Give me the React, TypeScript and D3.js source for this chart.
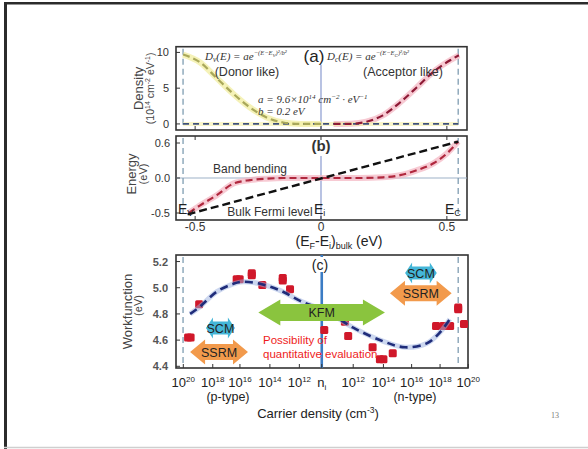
import React from 'react';
import * as d3 from 'd3';

// ---------- data ----------
const energyTicks = [-0.5, 0, 0.5];
const energyTickLabels = ['-0.5', '0', '0.5'];
const densityTicks = [0, 5, 10];
const bandTicks = [-0.5, 0, 0.5];
const bandTickLabels = ['-0.5', '0.0', '0.6'];
const wfTicks = [4.4, 4.6, 4.8, 5.0, 5.2];
const wfTickLabels = ['4.4', '4.6', '4.8', '5.0', '5.2'];
const carrierExps = ['20', '18', '16', '14', '12', 'i', '12', '14', '16', '18', '20'];
const carrierE = [-0.547, -0.43, -0.322, -0.203, -0.086, 0.003, 0.128, 0.248, 0.36, 0.473, 0.585];

const Ev = -0.548;
const Ec = 0.545;

const donorCurve: [number, number][] = [
  [-0.548, 9.7], [-0.48, 8.6], [-0.414, 6.4], [-0.348, 4.2], [-0.282, 2.3],
  [-0.216, 0.9], [-0.15, 0.2], [-0.08, 0.0], [0.0, 0.0],
];
const acceptorCurve: [number, number][] = [
  [0.05, 0.0], [0.12, 0.02], [0.18, 0.3], [0.246, 1.2], [0.314, 3.0],
  [0.38, 5.1], [0.447, 7.3], [0.513, 8.9], [0.548, 9.6],
];
const baseline: [number, number][] = [[Ev, 0], [Ec, 0]];

const bulkFermi: [number, number][] = [[-0.53, -0.52], [0.545, 0.52]];
const bandBending: [number, number][] = [
  [-0.525, -0.5], [-0.48, -0.39], [-0.414, -0.245], [-0.348, -0.08], [-0.282, -0.03],
  [-0.216, -0.01], [-0.15, 0], [0, 0], [0.15, 0], [0.246, 0.01], [0.314, 0.04],
  [0.38, 0.11], [0.447, 0.21], [0.5, 0.35], [0.545, 0.52],
];

const wfCurve: [number, number][] = [
  [-0.52, 4.8], [-0.481, 4.855], [-0.414, 4.97], [-0.348, 5.03], [-0.309, 5.046],
  [-0.242, 5.03], [-0.163, 4.98], [-0.083, 4.9], [0.003, 4.835], [0.049, 4.79],
  [0.128, 4.695], [0.248, 4.59], [0.334, 4.545], [0.42, 4.575], [0.473, 4.66], [0.512, 4.76],
];
const wfPoints: [number, number][] = [
  [-0.528, 4.62], [-0.518, 4.62], [-0.484, 4.873], [-0.335, 5.064], [-0.323, 5.064],
  [-0.275, 5.095], [-0.275, 5.11], [-0.233, 5.02], [-0.152, 5.055], [-0.152, 5.075],
  [-0.123, 4.988], [0.013, 4.677], [0.095, 4.74], [0.108, 4.631], [0.205, 4.545],
  [0.234, 4.453], [0.248, 4.453], [0.285, 4.499], [0.457, 4.708], [0.486, 4.708],
  [0.513, 4.708], [0.545, 4.835], [0.545, 4.85], [0.568, 4.723],
];

// arrows: [E start, E end, workfunction center, label]
const bigArrows: [number, number, number, string][] = [[-0.249, 0.254, 4.811, 'KFM']];
const scmArrows: [number, number, number, string][] = [[0.334, 0.46, 5.112, 'SCM'], [-0.457, -0.342, 4.692, 'SCM']];
const ssrmArrows: [number, number, number, string][] = [[0.274, 0.519, 4.957, 'SSRM'], [-0.52, -0.29, 4.509, 'SSRM']];

// ---------- layout ----------
const W = 588, H = 449;
const LEFT = 176, RIGHT = 467;
const A = { top: 46.7, bottom: 130 };
const B = { top: 136, bottom: 220 };
const C = { top: 255, bottom: 368, right: 468 };

const SANS = "'Liberation Sans', Arial, sans-serif";
const SERIF = "'Liberation Serif', 'Times New Roman', serif";

function arrowPath(x1: number, x2: number, cy: number, sh: number, hh: number, hl: number) {
  return `M${x1},${cy} L${x1 + hl},${cy - hh} L${x1 + hl},${cy - sh} L${x2 - hl},${cy - sh} L${x2 - hl},${cy - hh} L${x2},${cy} L${x2 - hl},${cy + hh} L${x2 - hl},${cy + sh} L${x1 + hl},${cy + sh} L${x1 + hl},${cy + hh} Z`;
}

export default function App() {
  const xE = d3.scaleLinear().domain([-0.576, 0.58]).range([LEFT, RIGHT]);
  const yA = d3.scaleLinear().domain([-0.85, 10.8]).range([A.bottom, A.top]);
  const yB = d3.scaleLinear().domain([-0.6, 0.6]).range([B.bottom, B.top]);
  const yC = d3.scaleLinear().domain([4.387, 5.25]).range([C.bottom, C.top]);

  const lineA = d3.line<[number, number]>().x(d => xE(d[0])).y(d => yA(d[1])).curve(d3.curveMonotoneX);
  const lineB = d3.line<[number, number]>().x(d => xE(d[0])).y(d => yB(d[1])).curve(d3.curveMonotoneX);
  const lineC = d3.line<[number, number]>().x(d => xE(d[0])).y(d => yC(d[1])).curve(d3.curveCatmullRom);

  const boxStroke = '#333';
  const vdash = '#7f9db2';

  return (
    <svg width={W} height={H} style={{ position: 'absolute', left: 0, top: 0, background: '#fff' }}>
      <rect x={0} y={0} width={W} height={H} fill="#fff" />
      {/* slide frame */}
      <rect x={4} y={2} width={W - 4} height={2.5} fill="#2b2b2b" />
      <rect x={4} y={2} width={3} height={H - 2} fill="#2b2b2b" />
      <line x1={4} x2={W} y1={447.5} y2={447.5} stroke="#cfcfcf" strokeWidth={1.5} />

      {/* ================= Panel (a) ================= */}
      <rect x={LEFT} y={A.top} width={RIGHT - LEFT} height={A.bottom - A.top} fill="#fff" stroke={boxStroke} strokeWidth={1.6} />
      {[Ev, Ec].map((e, i) => (
        <line key={'av' + i} x1={xE(e)} x2={xE(e)} y1={A.top + 2} y2={A.bottom - 2} stroke={vdash} strokeWidth={1.3} strokeDasharray="6,4" />
      ))}
      <line x1={xE(0)} x2={xE(0)} y1={A.top + 18} y2={A.bottom} stroke="#8a9ad0" strokeWidth={1.2} />
      <path d={lineA(donorCurve) || ''} fill="none" stroke="#f3efa6" strokeWidth={6} strokeOpacity={0.8} />
      <path d={lineA(acceptorCurve) || ''} fill="none" stroke="#f3b3c0" strokeWidth={6} strokeOpacity={0.7} />
      <path d={lineA(baseline) || ''} fill="none" stroke="#f3efa6" strokeWidth={4} strokeOpacity={0.6} />
      <path d={lineA(baseline) || ''} fill="none" stroke="#3d4f7c" strokeWidth={1.8} strokeDasharray="6,4" />
      <path d={lineA(donorCurve) || ''} fill="none" stroke="#a9a85a" strokeWidth={2.2} strokeDasharray="7,4" />
      <path d={lineA(acceptorCurve) || ''} fill="none" stroke="#8e1a36" strokeWidth={2.2} strokeDasharray="7,4" />
      {densityTicks.map(t => (
        <g key={'dt' + t}>
          <line x1={LEFT} x2={LEFT + 4} y1={yA(t)} y2={yA(t)} stroke={boxStroke} strokeWidth={1} />
          <text x={LEFT - 7} y={yA(t) + 4} textAnchor="end" fontFamily={SANS} fontSize={11} fill="#333">{t}</text>
        </g>
      ))}
      <text x={205} y={60} fontFamily={SERIF} fontStyle="italic" fontSize={11} fill="#333">
        D<tspan fontSize={7.5} dy={2}>v</tspan><tspan dy={-2}>(E) = ae</tspan>
        <tspan fontSize={6.5} dy={-5}>−(E−E</tspan><tspan fontSize={5} dy={1.5}>V</tspan><tspan fontSize={6.5} dy={-1.5}>)²/b²</tspan>
      </text>
      <text x={247} y={76} textAnchor="middle" fontFamily={SANS} fontSize={12.5} fill="#333">(Donor like)</text>
      <text x={314} y={62} textAnchor="middle" fontFamily={SANS} fontSize={17} fill="#222">(a)</text>
      <text x={327} y={60} fontFamily={SERIF} fontStyle="italic" fontSize={11} fill="#333">
        D<tspan fontSize={7.5} dy={2}>c</tspan><tspan dy={-2}>(E) = ae</tspan>
        <tspan fontSize={6.5} dy={-5}>−(E−E</tspan><tspan fontSize={5} dy={1.5}>C</tspan><tspan fontSize={6.5} dy={-1.5}>)²/b²</tspan>
      </text>
      <text x={403} y={76} textAnchor="middle" fontFamily={SANS} fontSize={12.5} fill="#333">(Acceptor like)</text>
      <text x={258} y={103} fontFamily={SERIF} fontStyle="italic" fontSize={11} fill="#333">
        a = 9.6×10<tspan fontSize={7} dy={-4}>14</tspan><tspan dy={4}> cm</tspan><tspan fontSize={7} dy={-4}>−2</tspan><tspan dy={4}> · eV</tspan><tspan fontSize={7} dy={-4}>−1</tspan>
      </text>
      <text x={258} y={115} fontFamily={SERIF} fontStyle="italic" fontSize={11} fill="#333">b = 0.2  eV</text>
      <text transform={`translate(143,${(A.top + A.bottom) / 2}) rotate(-90)`} textAnchor="middle" fontFamily={SANS} fontSize={13} fill="#444">Density</text>
      <text transform={`translate(154,${(A.top + A.bottom) / 2}) rotate(-90)`} textAnchor="middle" fontFamily={SANS} fontSize={10.5} fill="#444">
        (10<tspan fontSize={7} dy={-4}>14</tspan><tspan dy={4}> cm</tspan><tspan fontSize={7} dy={-4}>-2</tspan><tspan dy={4}> eV</tspan><tspan fontSize={7} dy={-4}>-1</tspan><tspan dy={4}>)</tspan>
      </text>

      {/* ================= Panel (b) ================= */}
      <rect x={LEFT} y={B.top} width={RIGHT - LEFT} height={B.bottom - B.top} fill="#fff" stroke={boxStroke} strokeWidth={1.6} />
      <line x1={LEFT} x2={RIGHT} y1={yB(0)} y2={yB(0)} stroke="#9db2c8" strokeWidth={1.2} />
      {[Ev, Ec].map((e, i) => (
        <line key={'bv' + i} x1={xE(e)} x2={xE(e)} y1={B.top + 2} y2={B.bottom - 2} stroke={vdash} strokeWidth={1.3} strokeDasharray="6,4" />
      ))}
      <line x1={xE(0)} x2={xE(0)} y1={B.top + 20} y2={B.bottom} stroke="#8a9ad0" strokeWidth={1.2} />
      <path d={lineB(bandBending) || ''} fill="none" stroke="#f3b3c0" strokeWidth={6} strokeOpacity={0.7} />
      <path d={lineB(bandBending) || ''} fill="none" stroke="#b0283e" strokeWidth={2.2} strokeDasharray="7,4" />
      <path d={lineB(bulkFermi) || ''} fill="none" stroke="#111" strokeWidth={2.4} strokeDasharray="8,4" />
      {bandTicks.map((t, i) => (
        <g key={'bt' + t}>
          <line x1={LEFT} x2={LEFT + 4} y1={yB(t)} y2={yB(t)} stroke={boxStroke} strokeWidth={1} />
          <text x={LEFT - 6} y={yB(t) + 4} textAnchor="end" fontFamily={SANS} fontSize={11} fill="#333">{bandTickLabels[i]}</text>
        </g>
      ))}
      {energyTicks.map((t, i) => (
        <g key={'et' + t}>
          <line x1={xE(t)} x2={xE(t)} y1={B.top} y2={B.top + 4} stroke={boxStroke} strokeWidth={1} />
          <line x1={xE(t)} x2={xE(t)} y1={B.bottom} y2={B.bottom - 4} stroke={boxStroke} strokeWidth={1} />
          <line x1={xE(t)} x2={xE(t)} y1={A.bottom} y2={A.bottom - 4} stroke={boxStroke} strokeWidth={1} />
          <text x={xE(t)} y={230.5} textAnchor="middle" fontFamily={SANS} fontSize={12} fill="#333">{energyTickLabels[i]}</text>
        </g>
      ))}
      <text x={321} y={151} textAnchor="middle" fontFamily={SANS} fontSize={15} fontWeight="bold" fill="#333">(b)</text>
      <text x={250} y={173} textAnchor="middle" fontFamily={SANS} fontSize={12} fill="#333">Band bending</text>
      <text x={270} y={216} textAnchor="middle" fontFamily={SANS} fontSize={12} fill="#333">Bulk Fermi level</text>
      <text x={178} y={214} fontFamily={SANS} fontSize={14} fill="#222">E<tspan fontSize={9} dy={2}>V</tspan></text>
      <text x={314} y={214} fontFamily={SANS} fontSize={14} fill="#222">E<tspan fontSize={9} dy={2}>i</tspan></text>
      <text x={445} y={214} fontFamily={SANS} fontSize={14} fill="#222">E<tspan fontSize={9} dy={2}>C</tspan></text>
      <text x={339} y={245.5} textAnchor="middle" fontFamily={SANS} fontSize={14} fill="#222">
        (E<tspan fontSize={9} dy={3}>F</tspan><tspan dy={-3}>-E</tspan><tspan fontSize={9} dy={3}>i</tspan><tspan dy={-3}>)</tspan><tspan fontSize={9} dy={3}>bulk</tspan><tspan dy={-3}> (eV)</tspan>
      </text>
      <text transform={`translate(136,${(B.top + B.bottom) / 2 - 4}) rotate(-90)`} textAnchor="middle" fontFamily={SANS} fontSize={13} fill="#444">Energy</text>
      <text transform={`translate(147,${(B.top + B.bottom) / 2 - 4}) rotate(-90)`} textAnchor="middle" fontFamily={SANS} fontSize={11} fill="#444">(eV)</text>

      {/* ================= Panel (c) ================= */}
      <rect x={LEFT} y={C.top} width={C.right - LEFT} height={C.bottom - C.top} fill="#fff" stroke={boxStroke} strokeWidth={1.6} />
      {[Ev, Ec].map((e, i) => (
        <line key={'cv' + i} x1={xE(e)} x2={xE(e)} y1={C.top + 2} y2={C.bottom - 2} stroke={vdash} strokeWidth={1.3} strokeDasharray="6,4" />
      ))}
      <line x1={xE(0.003)} x2={xE(0.003)} y1={C.top} y2={C.bottom} stroke="#3b7cc4" strokeWidth={2.6} />
      {wfTicks.map((t, i) => (
        <g key={'wt' + t}>
          <line x1={LEFT} x2={LEFT + 4} y1={yC(t)} y2={yC(t)} stroke={boxStroke} strokeWidth={1} />
          <text x={LEFT - 8} y={yC(t) + 4} textAnchor="end" fontFamily={SANS} fontSize={11} fontWeight="bold" fill="#555">{wfTickLabels[i]}</text>
        </g>
      ))}
      {carrierE.map((e, i) => (
        <line key={'ct' + i} x1={xE(e)} x2={xE(e)} y1={C.bottom} y2={C.bottom - 4} stroke={boxStroke} strokeWidth={1} />
      ))}
      {/* red data points */}
      {wfPoints.map((p, i) => (
        <rect key={'pt' + i} x={xE(p[0]) - 4} y={yC(p[1]) - 4} width={8} height={8} rx={1.5} fill="#d0182a" />
      ))}
      {/* fitted curve */}
      <path d={lineC(wfCurve) || ''} fill="none" stroke="#9ab0e0" strokeWidth={5} strokeOpacity={0.5} />
      <path d={lineC(wfCurve) || ''} fill="none" stroke="#1f2c7a" strokeWidth={2.6} strokeDasharray="8,5" />
      {/* arrows */}
      {ssrmArrows.map((a, i) => (
        <g key={'ss' + i}>
          <path d={arrowPath(xE(a[0]), xE(a[1]), yC(a[2]), 8, 12.5, 15)} fill="#f29a4c" />
          <text x={(xE(a[0]) + xE(a[1])) / 2} y={yC(a[2]) + 4.5} textAnchor="middle" fontFamily={SANS} fontSize={12.5} fill="#222">{a[3]}</text>
        </g>
      ))}
      {scmArrows.map((a, i) => (
        <g key={'sc' + i}>
          <path d={arrowPath(xE(a[0]), xE(a[1]), yC(a[2]), 6.5, 10.5, 7)} fill="#44b6d8" />
          <text x={(xE(a[0]) + xE(a[1])) / 2} y={yC(a[2]) + 4.5} textAnchor="middle" fontFamily={SANS} fontSize={12.5} fill="#222">{a[3]}</text>
        </g>
      ))}
      {bigArrows.map((a, i) => (
        <g key={'kf' + i}>
          <path d={arrowPath(xE(a[0]), xE(a[1]), yC(a[2]), 8.5, 13, 22)} fill="#8ac43e" />
          <text x={(xE(a[0]) + xE(a[1])) / 2} y={yC(a[2]) + 4.5} textAnchor="middle" fontFamily={SANS} fontSize={12.5} fill="#222">{a[3]}</text>
        </g>
      ))}
      <rect x={311} y={257} width={19} height={15} fill="#fff" />
      <text x={320} y={270} textAnchor="middle" fontFamily={SANS} fontSize={14} fill="#222">(c)</text>
      <text x={263} y={344} fontFamily={SANS} fontSize={11.5} fill="#ee1c1c">Possibility of</text>
      <text x={263} y={358} fontFamily={SANS} fontSize={11.5} fill="#ee1c1c">quantitative evaluation</text>
      {/* carrier density ticks */}
      {carrierE.map((e, i) => (
        carrierExps[i] === 'i' ? (
          <text key={'cl' + i} x={xE(e)} y={387} textAnchor="middle" fontFamily={SANS} fontSize={13} fill="#222">n<tspan fontSize={8} dy={3}>i</tspan></text>
        ) : (
          <text key={'cl' + i} x={xE(e)} y={387} textAnchor="middle" fontFamily={SANS} fontSize={13} fill="#222">10<tspan fontSize={8} dy={-5}>{carrierExps[i]}</tspan></text>
        )
      ))}
      <text x={228} y={401} textAnchor="middle" fontFamily={SANS} fontSize={12.5} fill="#222">(p-type)</text>
      <text x={415} y={401} textAnchor="middle" fontFamily={SANS} fontSize={12.5} fill="#222">(n-type)</text>
      <text x={318} y={418} textAnchor="middle" fontFamily={SANS} fontSize={13} fill="#222">
        Carrier density (cm<tspan fontSize={8.5} dy={-5}>-3</tspan><tspan dy={5}>)</tspan>
      </text>
      <text transform={`translate(132,${(C.top + C.bottom) / 2}) rotate(-90)`} textAnchor="middle" fontFamily={SANS} fontSize={13} fill="#444">Workfunction</text>
      <text transform={`translate(142,${(C.top + C.bottom) / 2 - 6}) rotate(-90)`} textAnchor="middle" fontFamily={SANS} fontSize={11} fill="#444">(eV)</text>

      <text x={555} y={418} textAnchor="middle" fontFamily={SERIF} fontSize={8} fill="#777">13</text>
    </svg>
  );
}
